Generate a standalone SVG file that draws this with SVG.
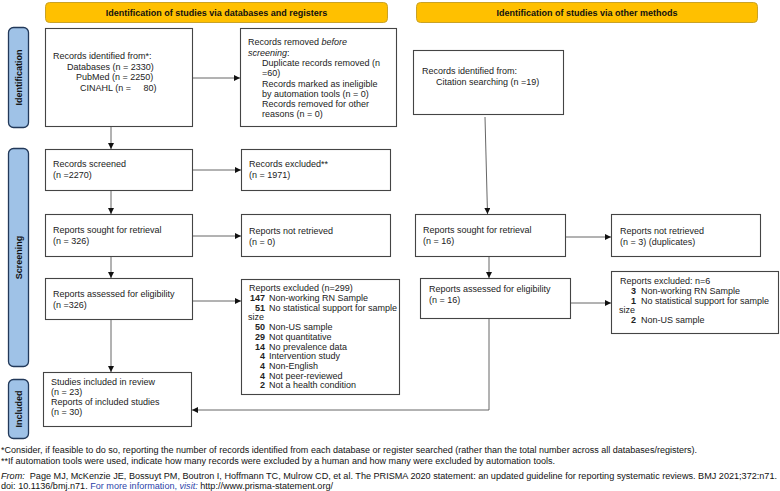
<svg xmlns="http://www.w3.org/2000/svg" width="780" height="491" viewBox="0 0 780 491">
<style>
text{font-family:"Liberation Sans",Arial,sans-serif;font-size:9px;fill:#222}
.hdr rect{fill:#FFC000;stroke:#C9A227;stroke-width:1}
.hdr text{font-weight:bold;text-anchor:middle;fill:#111}
.side rect{fill:#9FC2E7;stroke:#22395A;stroke-width:1.3}
.side text{font-weight:bold;text-anchor:middle;fill:#111}
.box rect{fill:#fff;stroke:#444;stroke-width:1.1}
.b{font-weight:bold}
.n{text-anchor:end;font-weight:bold}
.it{font-style:italic}
.conn line,.conn polyline{stroke:#555;stroke-width:0.9;fill:none}
.foot{font-size:8.5px;fill:#111}
.blue{fill:#2B3FA8}
</style>
<defs>
<marker id="ah" markerUnits="userSpaceOnUse" markerWidth="7" markerHeight="7" refX="6" refY="3" orient="auto">
<path d="M0,0 L6,3 L0,6 Z" fill="#111"/>
</marker>
</defs>

<g id="hdr-left" class="hdr"><rect x="45.5" y="2.5" width="342" height="20" rx="4"/><text x="216.5" y="16">Identification of studies via databases and registers</text></g>
<g id="hdr-right" class="hdr"><rect x="416.5" y="2.5" width="341" height="20" rx="4"/><text x="587" y="16">Identification of studies via other methods</text></g>

<g id="side-identification" class="side"><rect x="8.5" y="27.5" width="20" height="100" rx="5"/><text transform="translate(22,77.5) rotate(-90)">Identification</text></g>
<g id="side-screening" class="side"><rect x="8.5" y="148.5" width="20" height="218" rx="5"/><text transform="translate(22,257.5) rotate(-90)">Screening</text></g>
<g id="side-included" class="side"><rect x="8.5" y="379.5" width="20" height="59" rx="5"/><text transform="translate(22,409) rotate(-90)">Included</text></g>

<g id="records-identified" class="box"><rect x="45.5" y="28.5" width="147" height="98"/>
<text x="53" y="59">Records identified from*:</text>
<text x="67" y="69.5">Databases (n = 2330)</text>
<text x="76" y="80">PubMed (n = 2250)</text>
<text x="80" y="90.5" xml:space="preserve">CINAHL (n =     80)</text></g>

<g id="records-removed" class="box"><rect x="240.5" y="28.5" width="156" height="98"/>
<text x="248" y="45">Records removed <tspan class="it">before</tspan></text>
<text x="248" y="55.5"><tspan class="it">screening</tspan>:</text>
<text x="262" y="66">Duplicate records removed (n</text>
<text x="262" y="76">=60)</text>
<text x="262" y="86.5">Records marked as ineligible</text>
<text x="262" y="96.5">by automation tools (n = 0)</text>
<text x="262" y="107">Records removed for other</text>
<text x="262" y="117">reasons (n = 0)</text></g>

<g id="citation" class="box"><rect x="413.5" y="50.5" width="150" height="64"/>
<text x="422" y="74">Records identified from:</text>
<text x="436" y="84.5">Citation searching (n =19)</text></g>

<g id="records-screened" class="box"><rect x="45.5" y="149.5" width="147" height="41"/>
<text x="53" y="167">Records screened</text><text x="53" y="177.5">(n =2270)</text></g>

<g id="records-excluded" class="box"><rect x="241.5" y="149.5" width="149" height="41"/>
<text x="249" y="167">Records excluded**</text><text x="249" y="177.5">(n = 1971)</text></g>

<g id="sought-left" class="box"><rect x="45.5" y="214.5" width="147" height="42"/>
<text x="53" y="233">Reports sought for retrieval</text><text x="53" y="243.5">(n = 326)</text></g>

<g id="notretrieved-left" class="box"><rect x="241.5" y="214.5" width="149" height="42"/>
<text x="249" y="234">Reports not retrieved</text><text x="249" y="244.5">(n = 0)</text></g>

<g id="assessed-left" class="box"><rect x="45.5" y="278.5" width="147" height="41"/>
<text x="53" y="297">Reports assessed for eligibility</text><text x="53" y="307.5">(n =326)</text></g>

<g id="excluded-left" class="box"><rect x="241.5" y="279.5" width="158" height="115"/>
<text x="249" y="291">Reports excluded (n=299)</text>
<text class="n" x="265" y="301">147</text><text x="269" y="301">Non-working RN Sample</text>
<text class="n" x="265" y="310.7">51</text><text x="269" y="310.7">No statistical support for sample</text>
<text x="248" y="320.4">size</text>
<text class="n" x="265" y="330.1">50</text><text x="269" y="330.1">Non-US sample</text>
<text class="n" x="265" y="339.8">29</text><text x="269" y="339.8">Not quantitative</text>
<text class="n" x="265" y="349.5">14</text><text x="269" y="349.5">No prevalence data</text>
<text class="n" x="265" y="359.2">4</text><text x="269" y="359.2">Intervention study</text>
<text class="n" x="265" y="368.9">4</text><text x="269" y="368.9">Non-English</text>
<text class="n" x="265" y="378.6">4</text><text x="269" y="378.6">Not peer-reviewed</text>
<text class="n" x="265" y="388.3">2</text><text x="269" y="388.3">Not a health condition</text></g>

<g id="sought-right" class="box"><rect x="415.5" y="214.5" width="150" height="42"/>
<text x="423" y="233">Reports sought for retrieval</text><text x="423" y="243.5">(n = 16)</text></g>

<g id="notretrieved-right" class="box"><rect x="611.5" y="214.5" width="149" height="42"/>
<text x="620" y="234">Reports not retrieved</text><text x="620" y="244.5">(n = 3) (duplicates)</text></g>

<g id="assessed-right" class="box"><rect x="420.5" y="278.5" width="150" height="40"/>
<text x="429" y="292">Reports assessed for eligibility</text><text x="429" y="302.5">(n = 16)</text></g>

<g id="excluded-right" class="box"><rect x="611.5" y="271.5" width="167" height="62"/>
<text x="620" y="284">Reports excluded: n=6</text>
<text class="n" x="636" y="294">3</text><text x="641" y="294">Non-working RN Sample</text>
<text class="n" x="636" y="303.5">1</text><text x="641" y="303.5">No statistical support for sample</text>
<text x="619" y="313">size</text>
<text class="n" x="636" y="322.5">2</text><text x="641" y="322.5">Non-US sample</text></g>

<g id="included" class="box"><rect x="43.5" y="372.5" width="148" height="54"/>
<text x="51" y="385">Studies included in review</text>
<text x="51" y="394.5">(n = 23)</text>
<text x="51" y="405">Reports of included studies</text>
<text x="51" y="415">(n = 30)</text></g>

<g id="connectors" class="conn">
<line x1="111" y1="127" x2="111" y2="149" marker-end="url(#ah)"/>
<line x1="193" y1="78" x2="240" y2="78" marker-end="url(#ah)"/>
<line x1="193" y1="170" x2="241" y2="170" marker-end="url(#ah)"/>
<line x1="111" y1="191" x2="111" y2="214" marker-end="url(#ah)"/>
<line x1="193" y1="236" x2="241" y2="236" marker-end="url(#ah)"/>
<line x1="111" y1="257" x2="111" y2="278" marker-end="url(#ah)"/>
<line x1="193" y1="301" x2="241" y2="301" marker-end="url(#ah)"/>
<line x1="111" y1="320" x2="111" y2="372" marker-end="url(#ah)"/>
<line x1="485" y1="117" x2="487.5" y2="214" marker-end="url(#ah)"/>
<line x1="566" y1="237" x2="611" y2="237" marker-end="url(#ah)"/>
<line x1="489" y1="257" x2="489" y2="278" marker-end="url(#ah)"/>
<line x1="571" y1="303" x2="611" y2="303" marker-end="url(#ah)"/>
<polyline points="489,319 489,410 192,410" marker-end="url(#ah)"/>
</g>

<g id="footer">
<text class="foot" x="1" y="453" textLength="696" lengthAdjust="spacingAndGlyphs">*Consider, if feasible to do so, reporting the number of records identified from each database or register searched (rather than the total number across all databases/registers).</text>
<text class="foot" x="1" y="464" textLength="554" lengthAdjust="spacingAndGlyphs">**If automation tools were used, indicate how many records were excluded by a human and how many were excluded by automation tools.</text>
<text class="foot" x="1" y="479" textLength="776" lengthAdjust="spacingAndGlyphs" xml:space="preserve"><tspan class="it">From:</tspan>  Page MJ, McKenzie JE, Bossuyt PM, Boutron I, Hoffmann TC, Mulrow CD, et al. The PRISMA 2020 statement: an updated guideline for reporting systematic reviews. BMJ 2021;372:n71.</text>
<text class="foot" x="1" y="489" textLength="332" lengthAdjust="spacingAndGlyphs">doi: 10.1136/bmj.n71. <tspan class="blue">For more information, <tspan class="it">visit:</tspan></tspan> http://www.prisma-statement.org/</text>
</g>
</svg>
